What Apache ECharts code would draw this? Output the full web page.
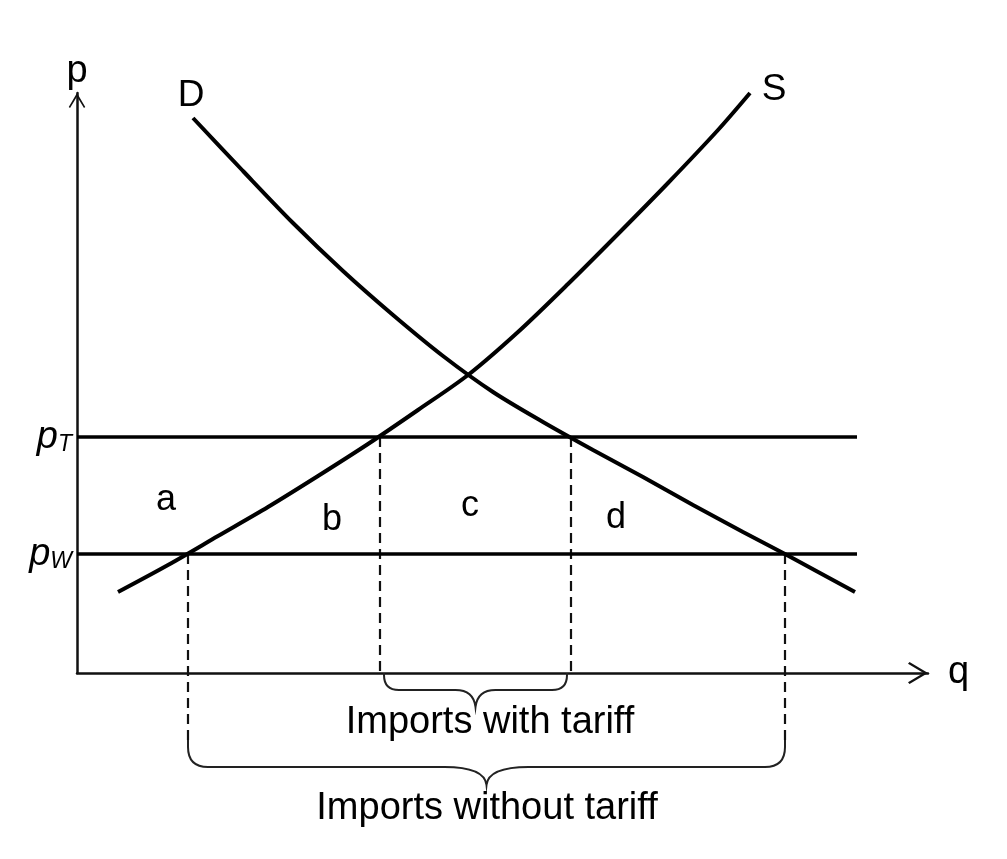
<!DOCTYPE html>
<html><head><meta charset="utf-8">
<script src="https://cdn.jsdelivr.net/npm/echarts@6/dist/echarts.min.js"></script>
<style>html,body{margin:0;padding:0;background:#fff}#c{width:1007px;height:859px}</style>
</head><body><div id="c"></div>
<script>
// ---- data (q = quantity, p = price, arbitrary units) ----
const demandQ = [11.6, 16.6, 21.6, 26.6, 31.6, 36.6, 41.6, 46.6, 51.6, 56.6, 61.6, 66.6, 70.8, 77.8];
const demandP = [55.5, 50.2, 45.0, 40.2, 35.8, 31.7, 28.1, 25.1, 22.3, 19.6, 16.8, 14.1, 11.9, 8.1];
const supplyQ = [4.1, 9.1, 14.1, 19.1, 24.1, 29.1, 34.1, 39.1, 44.1, 49.1, 54.1, 59.1, 64.1, 67.3];
const supplyP = [8.1, 10.8, 13.7, 16.6, 19.7, 22.9, 26.3, 29.8, 34.1, 38.9, 43.9, 49.0, 54.3, 58.0];
const priceValues = [23.6, 11.9];          // pT, pW
const priceSubs = ['T', 'W'];
const priceLineEnd = 78.0;
const tariffQ = [30.3, 49.4];              // S and D at pT
const freeQ = [11.1, 70.8];                // S and D at pW
const regionNames = ['a', 'b', 'c', 'd'];
const regionQ = [8.9, 25.5, 39.3, 53.9];
const regionP = [17.3, 15.3, 16.7, 15.5];
const curveNames = ['D', 'S'];
const curveLabelQ = [11.4, 69.7];
const curveLabelP = [57.7, 58.3];
const importNames = ['Imports with tariff', 'Imports without tariff'];
const importLabelQ = [41.3, 41.0];
const importLabelP = [-5.0, -13.6];
const braceTop = [0, -6.7];
const braceFlat = [-1.7, -9.4];
const braceTip = [-3.4, -11.2];

const FONT = 'Liberation Sans, Arial, sans-serif';
const chevron = 'path://M11,20 L22,38.5 L20.3,40 L11,24.5 L1.7,40 L0,38.5 Z M11,0 L11.01,0 L11,0.01 Z';

const zip = (a, b) => a.map((v, i) => [v, b[i]]);

const series = [];
// demand & supply
series.push({type: 'line', data: zip(demandQ, demandP), smooth: 0.3, symbol: 'none', clip: false,
  lineStyle: {color: '#000', width: 4}, z: 5});
series.push({type: 'line', data: zip(supplyQ, supplyP), smooth: 0.3, symbol: 'none', clip: false,
  lineStyle: {color: '#000', width: 4}, z: 5});
// price lines
priceValues.forEach(v => series.push({type: 'line', data: [[0, v], [priceLineEnd, v]], symbol: 'none',
  clip: false, lineStyle: {color: '#000', width: 3.5}, z: 4}));
// dashed drop lines
tariffQ.forEach(q => series.push({type: 'line', data: [[q, priceValues[0]], [q, braceTop[0]]], symbol: 'none',
  clip: false, lineStyle: {color: '#111', width: 2.2, type: [10, 6]}, z: 3}));
freeQ.forEach(q => series.push({type: 'line', data: [[q, priceValues[1]], [q, braceTop[1]]], symbol: 'none',
  clip: false, lineStyle: {color: '#111', width: 2.2, type: [10, 6]}, z: 3}));
// braces
const braceSet = [[tariffQ[0], tariffQ[1], braceTop[0], braceFlat[0], braceTip[0]],
                  [freeQ[0], freeQ[1], braceTop[1], braceFlat[1], braceTip[1]]];
const braceStyle = [{inset: 4, r: 15, r2: 20}, {inset: 0, r: 20, r2: 42}];
series.push({type: 'custom', clip: false, data: braceSet, z: 3,
  renderItem: function (params, api) {
    const st = braceStyle[params.dataIndex];
    const s = api.coord([api.value(0), api.value(2)]);
    const e = api.coord([api.value(1), api.value(2)]);
    const yf = api.coord([0, api.value(3)])[1];
    const yt = api.coord([0, api.value(4)])[1];
    const x1 = s[0] + st.inset, x2 = e[0] - st.inset, y0 = s[1];
    const xm = (x1 + x2) / 2, r = Math.min(st.r, yf - y0), r2 = st.r2;
    const d = `M${x1},${y0} L${x1},${yf - r} Q${x1},${yf} ${x1 + r},${yf} L${xm - r2},${yf} ` +
      `Q${xm - 2},${yf} ${xm},${yt} Q${xm + 2},${yf} ${xm + r2},${yf} L${x2 - r},${yf} ` +
      `Q${x2},${yf} ${x2},${yf - r} L${x2},${y0}`;
    return {type: 'path', shape: {pathData: d}, style: {stroke: '#222', lineWidth: 2, fill: null}};
  }});
// text labels
function textSeries(names, qs, ps, size) {
  return {type: 'scatter', symbolSize: 0, clip: false, z: 10, silent: true,
    itemStyle: {opacity: 1},
    data: names.map((n, i) => ({name: n, value: [qs[i], ps[i]]})),
    label: {show: true, position: 'inside', formatter: '{b}', color: '#000', opacity: 1, fontSize: size, fontFamily: FONT}};
}
series.push(textSeries(regionNames, regionQ, regionP, 36));
series.push(textSeries(curveNames, curveLabelQ, curveLabelP, 37));
series.push(textSeries(importNames, importLabelQ, importLabelP, 38));
// price tick labels
series.push({type: 'scatter', symbolSize: 0, clip: false, z: 10, silent: true, itemStyle: {opacity: 1},
  data: priceValues.map((v, i) => ({name: priceSubs[i], value: [0, v]})),
  label: {show: true, position: 'left', distance: 5, color: '#000', opacity: 1, fontFamily: FONT,
    formatter: p => '{p|p}{s|' + p.name + '}',
    rich: {p: {fontSize: 38, fontStyle: 'italic', fontFamily: FONT, color: '#000', verticalAlign: 'bottom'},
           s: {fontSize: 23, fontStyle: 'italic', fontFamily: FONT, color: '#000', verticalAlign: 'bottom', lineHeight: 16}}}});

const chart = echarts.init(document.getElementById('c'), null, {renderer: 'canvas'});
chart.setOption({
  animation: false,
  backgroundColor: '#fff',
  grid: {left: 77, top: 93, width: 851, height: 580},
  xAxis: {type: 'value', min: 0, max: 85.1, name: 'q', nameGap: 20,
    nameTextStyle: {fontSize: 38, fontFamily: FONT, color: '#000', verticalAlign: 'middle', padding: [0, 0, 4, 0]},
    axisLine: {show: true, symbol: ['none', chevron], symbolSize: [22, 40], lineStyle: {color: '#111', width: 2.5}},
    axisTick: {show: false}, axisLabel: {show: false}, splitLine: {show: false}},
  yAxis: {type: 'value', min: 0, max: 58, name: 'p', nameGap: 2, nameLocation: 'end',
    nameTextStyle: {fontSize: 38, fontFamily: FONT, color: '#000', align: 'center'},
    axisLine: {show: true, symbol: ['none', chevron], symbolSize: [20, 30], lineStyle: {color: '#111', width: 2.5}},
    axisTick: {show: false}, axisLabel: {show: false}, splitLine: {show: false}},
  series: series
});
</script></body></html>
